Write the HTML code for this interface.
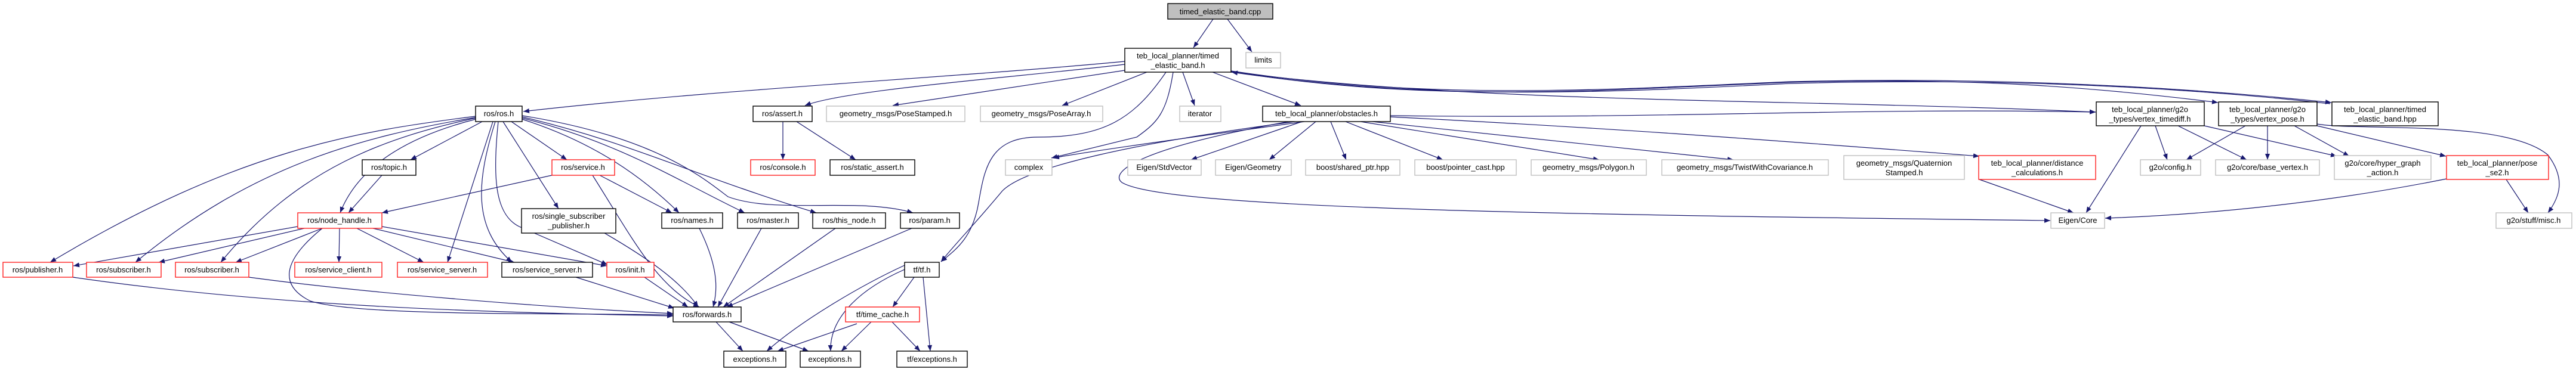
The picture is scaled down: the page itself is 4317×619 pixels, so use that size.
<!DOCTYPE html>
<html><head><meta charset="utf-8"><style>
html,body{margin:0;padding:0;background:#fff;}
svg{display:block;}
text{font-family:"Liberation Sans",sans-serif;font-size:13px;fill:#000;}
.b{fill:#fff;stroke:#000;stroke-width:1.4}
.r{fill:#fff;stroke:#ff2020;stroke-width:1.4}
.g{fill:#fff;stroke:#bfbfbf;stroke-width:1.4}
.e{fill:none;stroke:#191970;stroke-width:1.2}
</style></head><body>
<svg width="4317" height="619" viewBox="0 0 4317 619" xmlns="http://www.w3.org/2000/svg">
<defs><marker id="a" markerWidth="10" markerHeight="8" refX="10" refY="4" orient="auto" markerUnits="userSpaceOnUse"><path d="M0,0 L10,4 L0,8 z" fill="#191970"/></marker></defs>
<g class="e" marker-end="url(#a)">
<!-- cpp -->
<path d="M2033,32 L2000,80"/>
<path d="M2057,32 L2098,87"/>
<!-- teb.h -->
<path d="M1885,103 C1600,130 1200,150 877,187"/>
<path d="M1885,108 C1700,130 1420,150 1349,177"/>
<path d="M1885,118 L1496,177"/>
<path d="M1922,121 L1780,177"/>
<path d="M1982,121 L2002,177"/>
<path d="M2032,121 L2180,177"/>
<path d="M1966,121 C1955,190 1940,205 1905,230 L1762,265"/>
<path d="M1954,121 C1900,200 1850,230 1740,230 C1660,230 1650,280 1640,340 C1630,400 1600,420 1577,439"/>
<path d="M2063,121 C2500,175 3000,165 3512,188"/>
<path d="M2063,120 C2400,175 2700,150 3000,138 C3300,130 3500,145 3717,172"/>
<path d="M2063,119 C2400,170 2700,150 3000,137 C3300,130 3600,140 3907,172"/>
<path d="M3905,174 C3600,140 3300,132 3000,140 C2700,155 2400,170 2064,121"/>
<!-- obstacles -->
<path d="M2186,204 C2000,230 1850,250 1765,265"/>
<path d="M2170,204 C1900,240 1720,280 1680,320 C1630,380 1600,410 1577,439"/>
<path d="M2160,204 C1900,250 1860,290 1880,306 C1950,350 2600,360 3436,370"/>
<path d="M2182,204 L1996,268"/>
<path d="M2205,204 L2127,268"/>
<path d="M2230,204 L2256,268"/>
<path d="M2255,204 L2418,268"/>
<path d="M2280,204 L2680,268"/>
<path d="M2300,204 L2905,268"/>
<path d="M2330,196 C2700,215 2900,230 3317,262"/>
<path d="M2330,194 C2800,200 3100,180 3512,188"/>
<!-- ros.h -->
<path d="M797,195 C600,220 400,250 84,440"/>
<path d="M797,197 C600,230 420,280 227,440"/>
<path d="M797,198 C650,230 500,280 370,440"/>
<path d="M797,200 C680,230 600,280 570,357"/>
<path d="M808,204 L688,268"/>
<path d="M826,204 L750,440"/>
<path d="M830,204 C800,300 790,380 858,440"/>
<path d="M835,204 C825,300 830,360 870,380 L1018,444"/>
<path d="M843,204 L936,350"/>
<path d="M857,204 L950,268"/>
<path d="M875,200 C1000,240 1080,300 1138,357"/>
<path d="M875,198 C1040,240 1130,300 1248,357"/>
<path d="M875,196 C1060,240 1150,290 1368,357"/>
<path d="M875,194 C1100,230 1180,300 1220,330 C1300,360 1440,330 1530,357"/>
<path d="M640,294 L584,357"/>
<!-- service -->
<path d="M925,294 L640,357"/>
<path d="M1005,294 L1126,357"/>
<path d="M993,294 C1060,400 1100,480 1172,515"/>
<!-- assert -->
<path d="M1312,204 L1312,268"/>
<path d="M1335,204 L1434,268"/>
<!-- node_handle -->
<path d="M499,380 L123,446"/>
<path d="M510,383 L266,440"/>
<path d="M540,383 L395,440"/>
<path d="M569,383 L568,440"/>
<path d="M598,383 L710,440"/>
<path d="M625,383 L862,440"/>
<path d="M640,380 L1017,446"/>
<path d="M540,383 C470,440 470,480 520,505 C600,530 900,525 1128,528"/>
<!-- to forwards -->
<path d="M1013,391 C1080,430 1140,470 1170,515"/>
<path d="M1172,383 C1200,440 1205,480 1195,515"/>
<path d="M1276,383 L1203,515"/>
<path d="M1400,383 L1212,515"/>
<path d="M1528,383 L1218,515"/>
<path d="M122,465 C500,520 900,525 1128,530"/>
<path d="M417,465 C600,490 900,515 1128,526"/>
<path d="M965,465 L1130,517"/>
<path d="M1080,465 L1153,515"/>
<path d="M1200,540 L1245,589"/>
<path d="M1222,540 L1355,589"/>
<!-- tf -->
<path d="M1516,445 C1440,480 1340,540 1285,589"/>
<path d="M1516,452 C1430,490 1390,540 1392,589"/>
<path d="M1532,465 L1496,515"/>
<path d="M1547,465 L1559,589"/>
<path d="M1436,543 L1303,589"/>
<path d="M1460,540 L1410,589"/>
<path d="M1495,540 L1542,589"/>
<!-- right cluster -->
<path d="M3317,301 L3475,357"/>
<path d="M3588,211 L3496,357"/>
<path d="M3612,211 L3632,268"/>
<path d="M3650,211 L3765,268"/>
<path d="M3694,211 L3916,262"/>
<path d="M3763,211 L3664,268"/>
<path d="M3800,211 L3800,268"/>
<path d="M3845,211 L3937,262"/>
<path d="M3883,211 L4099,262"/>
<path d="M3883,208 C3950,220 4200,200 4270,260 C4300,300 4290,330 4270,357"/>
<path d="M4100,300 C3900,340 3700,360 3528,366"/>
<path d="M4200,301 L4237,357"/>
</g>
<!-- nodes -->
<rect x="1957" y="6" width="176" height="26" fill="#bfbfbf" stroke="#000" stroke-width="1.4"/><text x="2045" y="24" text-anchor="middle">timed_elastic_band.cpp</text>
<rect class="b" x="1885" y="81" width="178" height="40"/><text x="1974" y="98" text-anchor="middle">teb_local_planner/timed</text><text x="1974" y="114" text-anchor="middle">_elastic_band.h</text>
<rect class="g" x="2088" y="88" width="58" height="26"/><text x="2117" y="105" text-anchor="middle">limits</text>
<g text-anchor="middle">
<rect class="b" x="797" y="178" width="78" height="26"/><text x="836" y="195">ros/ros.h</text>
<rect class="b" x="1262" y="178" width="99" height="26"/><text x="1311" y="195">ros/assert.h</text>
<rect class="g" x="1385" y="178" width="232" height="26"/><text x="1501" y="195">geometry_msgs/PoseStamped.h</text>
<rect class="g" x="1643" y="178" width="205" height="26"/><text x="1745" y="195">geometry_msgs/PoseArray.h</text>
<rect class="g" x="1977" y="178" width="69" height="26"/><text x="2011" y="195">iterator</text>
<rect class="b" x="2116" y="178" width="214" height="26"/><text x="2223" y="195">teb_local_planner/obstacles.h</text>
<rect class="b" x="607" y="268" width="90" height="26"/><text x="652" y="285">ros/topic.h</text>
<rect class="r" x="925" y="268" width="105" height="26"/><text x="977" y="285">ros/service.h</text>
<rect class="r" x="1258" y="268" width="108" height="26"/><text x="1312" y="285">ros/console.h</text>
<rect class="b" x="1391" y="268" width="142" height="26"/><text x="1462" y="285">ros/static_assert.h</text>
<rect class="g" x="1685" y="268" width="78" height="26"/><text x="1724" y="285">complex</text>
<rect class="g" x="1890" y="268" width="123" height="26"/><text x="1951" y="285">Eigen/StdVector</text>
<rect class="g" x="2037" y="268" width="127" height="26"/><text x="2100" y="285">Eigen/Geometry</text>
<rect class="g" x="2188" y="268" width="158" height="26"/><text x="2267" y="285">boost/shared_ptr.hpp</text>
<rect class="g" x="2371" y="268" width="170" height="26"/><text x="2456" y="285">boost/pointer_cast.hpp</text>
<rect class="g" x="2566" y="268" width="193" height="26"/><text x="2662" y="285">geometry_msgs/Polygon.h</text>
<rect class="g" x="2785" y="268" width="279" height="26"/><text x="2924" y="285">geometry_msgs/TwistWithCovariance.h</text>
<rect class="g" x="3090" y="261" width="202" height="40"/><text x="3191" y="278">geometry_msgs/Quaternion</text><text x="3191" y="294">Stamped.h</text>
<rect class="r" x="3316" y="261" width="196" height="40"/><text x="3414" y="278">teb_local_planner/distance</text><text x="3414" y="294">_calculations.h</text>
<rect class="b" x="3513" y="171" width="181" height="40"/><text x="3603" y="188">teb_local_planner/g2o</text><text x="3603" y="204">_types/vertex_timediff.h</text>
<rect class="b" x="3718" y="171" width="165" height="40"/><text x="3800" y="188">teb_local_planner/g2o</text><text x="3800" y="204">_types/vertex_pose.h</text>
<rect class="b" x="3908" y="171" width="178" height="40"/><text x="3997" y="188">teb_local_planner/timed</text><text x="3997" y="204">_elastic_band.hpp</text>
<rect class="g" x="3587" y="268" width="101" height="26"/><text x="3637" y="285">g2o/config.h</text>
<rect class="g" x="3713" y="268" width="174" height="26"/><text x="3800" y="285">g2o/core/base_vertex.h</text>
<rect class="g" x="3912" y="261" width="162" height="40"/><text x="3993" y="278">g2o/core/hyper_graph</text><text x="3993" y="294">_action.h</text>
<rect class="r" x="4100" y="261" width="171" height="40"/><text x="4185" y="278">teb_local_planner/pose</text><text x="4185" y="294">_se2.h</text>
<rect class="g" x="3437" y="357" width="90" height="26"/><text x="3482" y="374">Eigen/Core</text>
<rect class="g" x="4183" y="357" width="127" height="26"/><text x="4246" y="374">g2o/stuff/misc.h</text>
<rect class="r" x="499" y="357" width="141" height="26"/><text x="569" y="374">ros/node_handle.h</text>
<rect class="b" x="874" y="350" width="158" height="41"/><text x="953" y="367">ros/single_subscriber</text><text x="953" y="383">_publisher.h</text>
<rect class="b" x="1109" y="357" width="102" height="26"/><text x="1160" y="374">ros/names.h</text>
<rect class="b" x="1236" y="357" width="102" height="26"/><text x="1287" y="374">ros/master.h</text>
<rect class="b" x="1362" y="357" width="122" height="26"/><text x="1423" y="374">ros/this_node.h</text>
<rect class="b" x="1509" y="357" width="99" height="26"/><text x="1558" y="374">ros/param.h</text>
<rect class="r" x="5" y="440" width="117" height="25"/><text x="63" y="457">ros/publisher.h</text>
<rect class="r" x="145" y="440" width="125" height="25"/><text x="207" y="457">ros/subscriber.h</text>
<rect class="r" x="294" y="440" width="123" height="25"/><text x="355" y="457">ros/subscriber.h</text>
<rect class="r" x="494" y="440" width="146" height="25"/><text x="567" y="457">ros/service_client.h</text>
<rect class="r" x="666" y="440" width="151" height="25"/><text x="741" y="457">ros/service_server.h</text>
<rect class="b" x="841" y="440" width="152" height="25"/><text x="917" y="457">ros/service_server.h</text>
<rect class="r" x="1017" y="440" width="79" height="25"/><text x="1056" y="457">ros/init.h</text>
<rect class="b" x="1516" y="440" width="58" height="25"/><text x="1545" y="457">tf/tf.h</text>
<rect class="b" x="1128" y="515" width="114" height="25"/><text x="1185" y="532">ros/forwards.h</text>
<rect class="r" x="1417" y="515" width="124" height="25"/><text x="1479" y="532">tf/time_cache.h</text>
<rect class="b" x="1213" y="589" width="104" height="27"/><text x="1265" y="607">exceptions.h</text>
<rect class="b" x="1341" y="589" width="101" height="27"/><text x="1391" y="607">exceptions.h</text>
<rect class="b" x="1503" y="589" width="118" height="27"/><text x="1562" y="607">tf/exceptions.h</text>
</g>
</svg>
</body></html>
